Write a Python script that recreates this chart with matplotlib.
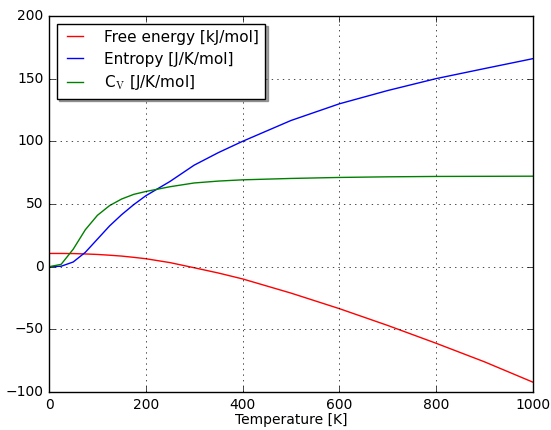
import numpy as np
import matplotlib
matplotlib.use('Agg')
import matplotlib.pyplot as plt

# values
temps = [0, 25, 50, 75, 100, 125, 150, 175, 200, 250, 300, 350, 400, 500, 600, 700, 800, 900, 1000]
free_energy = [10.6, 10.6, 10.5, 10.2, 9.8, 9.2, 8.5, 7.5, 6.4, 3.3, -0.8, -5.0, -9.7, -21.0, -33.4, -46.8, -61.0, -75.8, -92.0]
entropy = [0.0, 0.4, 3.8, 11.5, 22.0, 32.5, 41.5, 49.5, 56.6, 68.0, 81.0, 91.0, 100.0, 116.6, 129.9, 140.5, 150.0, 158.0, 165.9]
cv = [0.0, 1.9, 14.0, 29.5, 41.0, 48.7, 54.0, 57.7, 60.0, 63.8, 66.8, 68.3, 69.3, 70.4, 71.2, 71.7, 72.0, 72.1, 72.2]

plt.style.use('classic')
plt.rcParams['mathtext.fontset'] = 'cm'

fig = plt.figure(figsize=(5.51, 4.30), dpi=100, facecolor='white')
ax = fig.add_axes([0.089, 0.088, 0.878, 0.875])

ax.plot(temps, free_energy, 'r', lw=1.0, label='Free energy [kJ/mol]')
ax.plot(temps, entropy, 'b', lw=1.0, label='Entropy [J/K/mol]')
ax.plot(temps, cv, 'g', lw=1.0, label=r'C$_\mathrm{V}$ [J/K/mol]')

ax.set_xlim(0, 1000)
ax.set_ylim(-100, 200)
ax.set_xlabel('Temperature [K]', fontsize=10, labelpad=1)
ax.tick_params(labelsize=10)
ax.grid(True)

leg = ax.legend(loc='upper left', fontsize=11, shadow=True, fancybox=False,
                borderaxespad=0.5, handlelength=1.6, handletextpad=1.1,
                labelspacing=0.45)

plt.savefig('out.png', dpi=100, facecolor='white')
